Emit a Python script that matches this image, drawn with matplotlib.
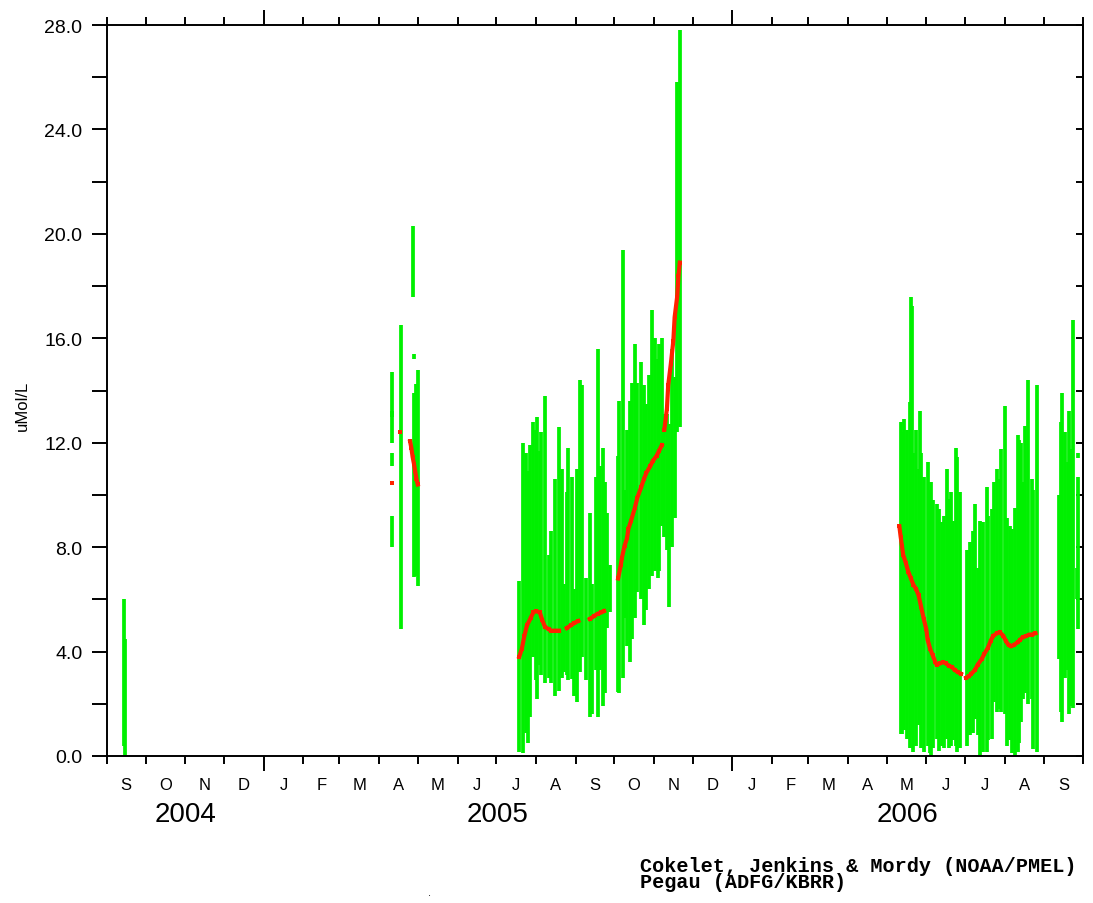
import pandas as pd
import numpy as np
import matplotlib
matplotlib.use("Agg")
import matplotlib.pyplot as plt
import matplotlib.dates as mdates
import matplotlib.transforms as mtransforms
from matplotlib.ticker import MultipleLocator, FormatStrFormatter, NullFormatter

plt.rcParams['font.family'] = ['Liberation Sans', 'DejaVu Sans']

# green: sample ranges (date, low, high) in uMol/L
green_dates = [
    '2004-09-14', '2004-09-15',
    '2005-04-11', '2005-04-11', '2005-04-11', '2005-04-11', '2005-04-18',
    '2005-04-27', '2005-04-28', '2005-04-28', '2005-04-30', '2005-05-01',
    '2005-07-19', '2005-07-22', '2005-07-24', '2005-07-26', '2005-07-27',
    '2005-07-30', '2005-08-01', '2005-08-02', '2005-08-04', '2005-08-05',
    '2005-08-08', '2005-08-11', '2005-08-13', '2005-08-16', '2005-08-19',
    '2005-08-21', '2005-08-23', '2005-08-25', '2005-08-26', '2005-08-29',
    '2005-08-31', '2005-09-02', '2005-09-04', '2005-09-06', '2005-09-09',
    '2005-09-12', '2005-09-14', '2005-09-17', '2005-09-18', '2005-09-20',
    '2005-09-22', '2005-09-24', '2005-09-25', '2005-09-28',
    '2005-10-04', '2005-10-05', '2005-10-08', '2005-10-09', '2005-10-11',
    '2005-10-13', '2005-10-15', '2005-10-17', '2005-10-19', '2005-10-22',
    '2005-10-24', '2005-10-26', '2005-10-28', '2005-10-30', '2005-11-02',
    '2005-11-04', '2005-11-05', '2005-11-07', '2005-11-09', '2005-11-11',
    '2005-11-13', '2005-11-15', '2005-11-17', '2005-11-19', '2005-11-21',
    '2006-05-12', '2006-05-13', '2006-05-15', '2006-05-17', '2006-05-19',
    '2006-05-20', '2006-05-21', '2006-05-22', '2006-05-24', '2006-05-26',
    '2006-05-27', '2006-05-28', '2006-05-30', '2006-06-02', '2006-06-04',
    '2006-06-05', '2006-06-06', '2006-06-09', '2006-06-11', '2006-06-13',
    '2006-06-15', '2006-06-17', '2006-06-19', '2006-06-20', '2006-06-22',
    '2006-06-24', '2006-06-25', '2006-06-27',
    '2006-07-03', '2006-07-05', '2006-07-07', '2006-07-09', '2006-07-11',
    '2006-07-13', '2006-07-15', '2006-07-18', '2006-07-19', '2006-07-22',
    '2006-07-24', '2006-07-26', '2006-07-28', '2006-07-29', '2006-08-01',
    '2006-08-03', '2006-08-05', '2006-08-07', '2006-08-09', '2006-08-11',
    '2006-08-12', '2006-08-14', '2006-08-15', '2006-08-17', '2006-08-19',
    '2006-08-22', '2006-08-23', '2006-08-26',
    '2006-09-12', '2006-09-14', '2006-09-15', '2006-09-17', '2006-09-19',
    '2006-09-20', '2006-09-22', '2006-09-23', '2006-09-26', '2006-09-27',
    '2006-09-27',
]
green_lo = [
    0.4, 0.0,
    13.0, 12.0, 11.1, 8.0, 4.85,
    17.6, 15.2, 6.85, 6.9, 6.5,
    0.15, 0.1, 0.9, 0.5, 1.5,
    3.8, 2.9, 2.2, 3.5, 3.1,
    2.8, 3.0, 2.8, 2.3, 2.5,
    3.0, 3.2, 3.1, 2.9, 2.95,
    2.3, 2.05, 3.2, 3.8, 2.9,
    1.5, 1.6, 3.3, 1.5, 3.3,
    1.9, 2.4, 4.9, 5.5,
    2.45, 2.4, 3.0, 5.3, 4.2,
    3.6, 4.5, 5.3, 6.3, 6.0,
    5.0, 5.6, 6.4, 6.9, 7.1,
    6.8, 7.1, 8.8, 8.4, 7.9,
    5.7, 8.0, 9.1, 12.4, 12.6,
    0.85, 0.85, 1.0, 0.65, 0.3,
    0.8, 0.8, 0.15, 0.4, 1.2,
    1.8, 0.3, 0.15, 0.4, 0.1,
    0.0, 0.3, 0.65, 0.2, 0.4,
    0.3, 0.65, 0.3, 0.4, 0.6,
    0.4, 0.15, 0.3,
    0.4, 0.8, 0.9, 1.4, 0.8,
    0.0, 0.15, 0.15, 0.6, 0.65,
    2.05, 1.7, 1.8, 1.7, 1.6,
    0.4, 0.6, 0.1, 0.0, 0.15,
    0.5, 1.3, 2.2, 2.4, 2.0,
    2.2, 0.25, 0.15,
    3.7, 1.7, 1.3, 3.0, 3.3,
    1.6, 1.9, 1.85, 6.0, 4.85,
    11.4,
]
green_hi = [
    6.0, 4.5,
    14.7, 13.2, 11.6, 9.2, 16.5,
    20.3, 15.4, 13.9, 14.25, 14.8,
    6.7, 12.0, 11.6, 10.9, 11.9,
    12.8, 12.5, 13.0, 11.7, 12.4,
    13.8, 7.7, 8.6, 10.6, 12.6,
    11.0, 6.6, 10.1, 11.8, 10.7,
    6.4, 11.0, 14.4, 14.2, 6.8,
    9.3, 6.6, 10.7, 15.6, 11.1,
    11.8, 10.5, 9.3, 7.3,
    11.5, 13.6, 19.4, 10.2, 12.5,
    13.6, 14.3, 15.8, 14.3, 15.1,
    14.2, 13.5, 14.6, 17.1, 16.0,
    15.2, 15.8, 16.0, 13.1, 13.1,
    12.7, 15.6, 14.5, 25.8, 27.8,
    12.8, 12.4, 12.9, 12.5, 13.55,
    17.6, 17.25, 11.6, 12.5, 11.0,
    13.2, 11.6, 10.7, 11.25, 10.2,
    10.5, 9.8, 9.65, 9.45, 8.95,
    9.2, 11.0, 9.85, 10.1, 9.0,
    11.8, 11.45, 10.1,
    7.9, 8.2, 8.6, 9.65, 7.2,
    9.0, 8.95, 10.3, 9.2, 9.45,
    10.5, 11.0, 10.6, 11.75, 13.4,
    9.1, 8.8, 8.7, 9.5, 12.3,
    12.1, 12.0, 10.5, 12.65, 14.4,
    10.6, 10.2, 14.2,
    10.0, 12.8, 13.9, 12.4, 11.25,
    13.2, 11.75, 16.7, 7.2, 10.7,
    11.6,
]

# red: smoothed series, nan = gap in the record
red_dates = [
    '2005-04-11', '2005-04-14', '2005-04-17', '2005-04-21',
    '2005-04-25', '2005-04-26', '2005-04-27', '2005-04-28', '2005-04-29',
    '2005-04-30', '2005-05-01', '2005-05-15',
    '2005-07-19', '2005-07-21', '2005-07-23', '2005-07-25', '2005-07-28',
    '2005-07-30', '2005-08-01', '2005-08-04', '2005-08-06', '2005-08-08',
    '2005-08-11', '2005-08-13', '2005-08-16', '2005-08-19', '2005-08-21',
    '2005-08-25', '2005-08-28', '2005-08-31', '2005-09-03', '2005-09-07',
    '2005-09-12', '2005-09-15', '2005-09-18', '2005-09-21', '2005-09-23',
    '2005-09-28',
    '2005-10-04', '2005-10-06', '2005-10-07', '2005-10-09', '2005-10-11',
    '2005-10-12', '2005-10-14', '2005-10-17', '2005-10-19', '2005-10-22',
    '2005-10-24', '2005-10-26', '2005-10-29', '2005-10-31', '2005-11-03',
    '2005-11-05', '2005-11-07', '2005-11-08', '2005-11-09', '2005-11-11',
    '2005-11-12', '2005-11-14', '2005-11-16', '2005-11-17', '2005-11-19',
    '2005-11-20', '2005-11-21', '2006-01-01',
    '2006-05-11', '2006-05-12', '2006-05-13', '2006-05-14', '2006-05-16',
    '2006-05-18', '2006-05-20', '2006-05-22', '2006-05-24', '2006-05-26',
    '2006-05-28', '2006-05-30', '2006-06-01', '2006-06-02', '2006-06-04',
    '2006-06-06', '2006-06-08', '2006-06-09', '2006-06-12', '2006-06-14',
    '2006-06-16', '2006-06-19', '2006-06-21', '2006-06-23', '2006-06-26',
    '2006-06-28', '2006-06-30', '2006-07-02', '2006-07-04', '2006-07-06',
    '2006-07-09', '2006-07-11', '2006-07-14', '2006-07-16', '2006-07-19',
    '2006-07-21', '2006-07-23', '2006-07-26', '2006-07-28', '2006-07-31',
    '2006-08-02', '2006-08-04', '2006-08-06', '2006-08-08', '2006-08-11',
    '2006-08-13', '2006-08-15', '2006-08-18', '2006-08-20', '2006-08-22',
    '2006-08-25',
]
red_vals = [
    10.45, np.nan, 12.4, np.nan,
    12.05, 11.8, 11.45, 11.2, 10.9,
    10.6, 10.4, np.nan,
    3.8, 4.1, 4.6, 5.0, 5.3,
    5.5, 5.55, 5.5, 5.2, 4.95,
    4.85, 4.8, 4.8, 4.8, np.nan,
    4.9, 5.0, 5.1, 5.17, np.nan,
    5.25, 5.35, 5.45, 5.5, 5.55,
    np.nan,
    6.8, 7.3, 7.6, 8.05, 8.35,
    8.7, 9.0, 9.5, 9.9, 10.3,
    10.6, 10.85, 11.1, 11.3, 11.5,
    11.7, 11.9, np.nan, 12.5, 13.3,
    14.2, 15.0, 15.9, 16.8, 17.6,
    18.4, 18.9, np.nan,
    8.8, 8.4, 8.05, 7.7, 7.4,
    7.05, 6.8, 6.55, 6.4, 6.15,
    5.7, 5.25, 4.85, 4.45, 4.1,
    3.85, 3.6, 3.5, 3.55, 3.6,
    3.55, 3.45, 3.4, 3.3, 3.2,
    3.15, np.nan, 3.0, 3.05, 3.15,
    3.3, 3.5, 3.7, 3.9, 4.15,
    4.4, 4.6, 4.7, 4.75, 4.6,
    4.4, 4.25, 4.2, 4.25, 4.35,
    4.45, 4.55, 4.6, 4.65, 4.65,
    4.7,
]

month_labels = ['S', 'O', 'N', 'D', 'J', 'F', 'M', 'A', 'M', 'J', 'J', 'A',
                'S', 'O', 'N', 'D', 'J', 'F', 'M', 'A', 'M', 'J', 'J', 'A', 'S']
year_labels = ['2004', '2005', '2006']

x_start = pd.Timestamp('2004-09-01')
x_end = pd.Timestamp('2006-10-01')

fig = plt.figure(figsize=(10.93, 9.04), dpi=100)
ax = fig.add_axes([107 / 1093, 1 - 757 / 904, 976 / 1093, 731 / 904])

ax.vlines(pd.to_datetime(green_dates), green_lo, green_hi, color='#00f000', lw=2.7)
ax.plot(pd.to_datetime(red_dates), red_vals, color='#ff2200', lw=3.0,
        marker='s', ms=3.2, mew=0)

ax.set_xlim(x_start, x_end)
ax.set_ylim(0, 28)

for s in ax.spines.values():
    s.set_linewidth(1.4)

# x ticks: long at year, short at month, top and bottom
ax.xaxis.set_major_locator(mdates.YearLocator())
ax.xaxis.set_minor_locator(mdates.MonthLocator())
ax.xaxis.set_major_formatter(NullFormatter())
ax.xaxis.set_minor_formatter(NullFormatter())
ax.tick_params(axis='x', which='major', length=10.8, width=1.4, direction='out',
               top=True, bottom=True)
ax.tick_params(axis='x', which='minor', length=5.5, width=1.4, direction='out',
               top=True, bottom=True)

# y ticks
ax.yaxis.set_major_locator(MultipleLocator(4))
ax.yaxis.set_minor_locator(MultipleLocator(2))
ax.yaxis.set_major_formatter(FormatStrFormatter('%.1f'))
ax.tick_params(axis='y', which='both', length=10.8, width=1.4, direction='out',
               left=True, right=False, pad=7, labelsize=14)
secy = ax.secondary_yaxis('right')
secy.yaxis.set_major_locator(MultipleLocator(2))
secy.tick_params(direction='in', length=5, width=1.4, labelright=False)
secy.spines['right'].set_linewidth(1.4)

trans = mtransforms.blended_transform_factory(ax.transData, ax.transAxes)
month_starts = pd.date_range(x_start, periods=len(month_labels), freq='MS')
for m, lab in zip(month_starts, month_labels):
    mid = m + (m + pd.offsets.MonthBegin(1) - m) / 2
    ax.text(mid, -0.0451, lab, transform=trans, ha='center', va='baseline',
            fontsize=12)

for lab in year_labels:
    y0 = max(pd.Timestamp(lab + '-01-01'), x_start)
    y1 = min(pd.Timestamp(str(int(lab) + 1) + '-01-01'), x_end)
    ax.text(y0 + (y1 - y0) / 2, -0.0889, lab, transform=trans, ha='center',
            va='baseline', fontsize=20)

fig.text(22 / 1093, 1 - 406 / 904, 'uMol/L', rotation=90, ha='center',
         va='center', fontsize=12)

fig.text(640 / 1093, 1 - 888.5 / 904,
         'Cokelet, Jenkins & Mordy (NOAA/PMEL)\nPegau (ADFG/KBRR)',
         family='Liberation Mono', weight='bold', fontsize=14.5, va='baseline',
         linespacing=0.82)
fig.text(428 / 1093, 1 - 896 / 904, '.', fontsize=8, va='baseline')

fig.savefig('out.png', dpi=100)
